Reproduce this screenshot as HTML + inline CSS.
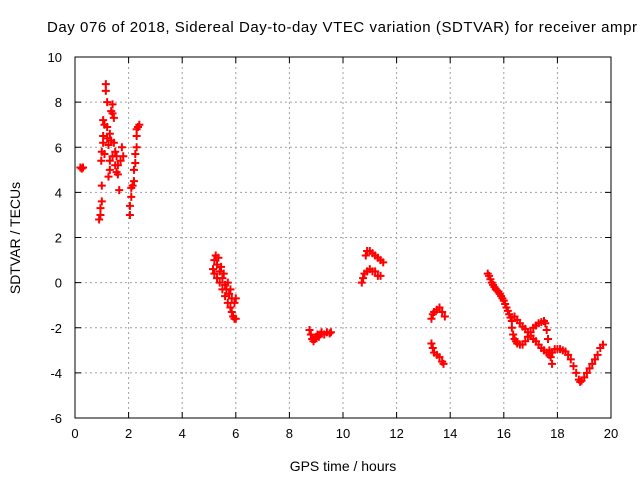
<!DOCTYPE html>
<html><head><meta charset="utf-8"><style>
body{margin:0;background:#fff;width:640px;height:480px;overflow:hidden}
svg{display:block;font-family:"Liberation Sans",sans-serif}
</style></head><body>
<svg id="chart" width="640" height="480">
<text x="47" y="32" font-size="15" textLength="590" lengthAdjust="spacing">Day 076 of 2018, Sidereal Day-to-day VTEC variation (SDTVAR) for receiver ampr</text>
<g id="grid"></g><g id="ticks"></g><g id="marks"></g>
<rect x="75" y="57" width="536" height="361" fill="none" stroke="#000" stroke-width="1"/>
<text x="343" y="471" font-size="14" text-anchor="middle">GPS time / hours</text>
<text x="20" y="238" font-size="14" text-anchor="middle" transform="rotate(-90 20 238)">SDTVAR / TECUs</text>
</svg>
<script>
const xTicks=[0,2,4,6,8,10,12,14,16,18,20];
const yTicks=[-6,-4,-2,0,2,4,6,8,10];
const hours=[0.2,0.25,0.3,
0.9,0.95,0.95,1.0,1.0,0.98,1.0,1.05,1.05,1.1,1.05,1.15,1.15,1.2,1.1,1.2,1.25,1.3,1.3,1.25,1.35,1.4,1.4,1.45,1.35,1.45,1.5,1.55,1.6,1.6,1.65,1.7,1.75,1.8,1.4,1.5,1.55,1.2,1.3,
2.05,2.05,2.1,2.1,2.15,2.2,2.2,2.25,2.25,2.3,2.3,2.3,2.35,2.4,
5.15,5.2,5.25,5.2,5.3,5.3,5.35,5.4,5.4,5.45,5.5,5.5,5.55,5.6,5.6,5.65,5.7,5.7,5.75,5.8,5.8,5.85,5.85,5.9,5.95,5.95,6.0,6.0,
8.75,8.8,8.85,8.9,8.95,9.0,9.05,9.1,9.15,9.2,9.3,9.4,9.5,9.55,
10.7,10.75,10.8,10.9,11.0,11.1,11.2,11.3,11.4,10.85,10.9,11.0,11.1,11.2,11.3,11.4,11.5,
13.3,13.35,13.4,13.5,13.6,13.7,13.8,13.3,13.35,13.4,13.5,13.6,13.7,13.75,
15.4,15.45,15.5,15.55,15.6,15.65,15.7,15.75,15.8,15.85,15.9,15.95,16.0,16.05,16.1,16.15,16.2,16.25,16.3,
16.3,16.35,16.4,16.45,16.5,16.6,16.7,16.8,16.9,17.0,17.1,17.2,17.3,17.4,17.5,17.55,17.6,17.65,17.7,17.75,17.8,
16.4,16.5,16.6,16.7,16.8,16.9,17.0,17.1,17.2,17.3,17.4,17.5,17.6,17.7,17.8,17.9,18.0,18.1,18.2,18.3,18.4,18.5,18.6,18.7,18.8,18.85,18.9,19.0,19.1,19.2,19.3,19.4,19.5,19.6,19.7];
const sdtvar=[5.1,5.05,5.1,
2.8,3.0,3.3,3.6,4.3,5.4,5.8,6.2,6.5,7.0,7.2,8.8,8.5,8.0,5.7,6.4,6.1,5.4,5.0,4.7,7.6,7.9,7.5,7.3,6.3,6.2,5.8,5.6,5.2,4.8,4.1,5.4,6.0,5.6,5.6,5.2,4.9,6.9,6.6,
3.0,3.4,3.8,4.2,4.3,4.5,5.0,5.3,5.7,6.0,6.5,6.8,6.9,7.0,
0.6,1.0,1.2,0.4,0.8,0.2,1.1,0.5,0.0,0.7,0.2,-0.3,0.4,-0.1,-0.6,-0.3,-0.9,0.0,-0.5,-1.1,-0.3,-1.3,-0.7,-1.5,-1.6,-0.9,-0.7,-1.6,
-2.1,-2.3,-2.5,-2.6,-2.5,-2.4,-2.3,-2.4,-2.3,-2.2,-2.3,-2.2,-2.25,-2.2,
0.0,0.2,0.4,0.5,0.6,0.5,0.5,0.3,0.3,1.2,1.4,1.4,1.3,1.2,1.1,1.0,0.9,
-1.6,-1.4,-1.3,-1.2,-1.1,-1.3,-1.5,-2.7,-2.9,-3.1,-3.2,-3.3,-3.5,-3.6,
0.4,0.3,0.15,0.0,-0.1,-0.2,-0.3,-0.35,-0.4,-0.5,-0.6,-0.7,-0.8,-0.95,-1.1,-1.25,-1.4,-1.55,-1.7,
-2.0,-2.3,-2.5,-2.6,-2.7,-2.75,-2.75,-2.6,-2.4,-2.2,-2.0,-1.9,-1.8,-1.75,-1.7,-1.8,-2.1,-2.5,-3.0,-3.3,-3.6,
-1.5,-1.65,-1.8,-1.95,-2.05,-2.2,-2.35,-2.5,-2.6,-2.75,-2.9,-3.0,-3.1,-3.2,-3.1,-2.95,-2.95,-2.95,-3.0,-3.05,-3.2,-3.4,-3.7,-4.0,-4.3,-4.4,-4.35,-4.2,-4.0,-3.8,-3.6,-3.4,-3.2,-2.9,-2.75];
const L=75,R=611,T=57,B=418;
const xs=v=>L+(v-0)/(20-0)*(R-L);
const ys=v=>B-(v+6)/(16)*(B-T);
const NS="http://www.w3.org/2000/svg";
function mk(tag,attrs,parent){const e=document.createElementNS(NS,tag);for(const k in attrs)e.setAttribute(k,attrs[k]);parent.appendChild(e);return e;}
const grid=document.getElementById('grid'),ticks=document.getElementById('ticks'),marks=document.getElementById('marks');
xTicks.forEach(t=>{const x=xs(t);
 if(t>0&&t<20){const g=mk('line',{x1:x,x2:x,y1:T,y2:B,stroke:'#a0a0a0','stroke-dasharray':'2,3'},grid);
 
 }
 const tk=mk('path',{d:`M${x},${B}v-6M${x},${T}v6`,stroke:'#000'},ticks);
 
 
 const tx=mk('text',{x:x,y:B+20,'font-size':13,'text-anchor':'middle'},ticks);tx.textContent=t;
 
 });
yTicks.forEach(t=>{const y=ys(t);
 if(t>-6&&t<10){const g=mk('line',{x1:L,x2:R,y1:y,y2:y,stroke:'#a0a0a0','stroke-dasharray':'2,3'},grid);
 
 }
 const tk=mk('path',{d:`M${L},${y}h6M${R},${y}h-6`,stroke:'#000'},ticks);
 
 
 const tx=mk('text',{x:L-13,y:y+5,'font-size':13,'text-anchor':'end'},ticks);tx.textContent=t;
 
 });
hours.forEach((h,i)=>{const x=xs(h),y=ys(sdtvar[i]);
 const p=mk('path',{d:`M${x-4},${y}h8M${x},${y-4}v8`,stroke:'#ff0000','stroke-width':2},marks);
 
 });
</script>
</body></html>
